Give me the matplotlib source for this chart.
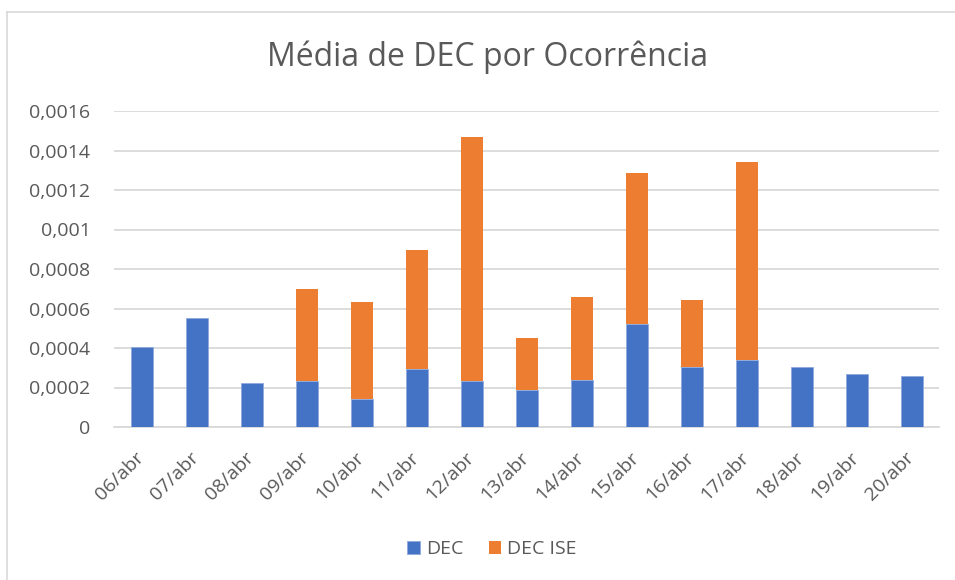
import matplotlib
matplotlib.use("Agg")
import matplotlib.pyplot as plt
from matplotlib.lines import Line2D
from matplotlib.transforms import ScaledTranslation
import numpy as np

categories = ["06/abr", "07/abr", "08/abr", "09/abr", "10/abr", "11/abr", "12/abr",
              "13/abr", "14/abr", "15/abr", "16/abr", "17/abr", "18/abr", "19/abr", "20/abr"]
dec = [0.000405, 0.00055, 0.000223, 0.000235, 0.00014, 0.000294, 0.000233,
       0.000189, 0.000236, 0.000523, 0.000305, 0.000339, 0.000305, 0.000267, 0.000257]
dec_ise = [0, 0, 0, 0.000465, 0.000495, 0.000601, 0.001237,
           0.00026, 0.000424, 0.000761, 0.000336, 0.001003, 0, 0, 0]
yticks = [0, 0.0002, 0.0004, 0.0006, 0.0008, 0.001, 0.0012, 0.0014, 0.0016]
ytick_labels = ["0", "0,0002", "0,0004", "0,0006", "0,0008", "0,001", "0,0012", "0,0014", "0,0016"]

FONT = ["Open Sans", "DejaVu Sans"]
TXT = "#595959"
BLUE = "#4472C4"
ORANGE = "#ED7D31"
FS = 14

fig = plt.figure(figsize=(9.55, 5.8), dpi=100)
ax = fig.add_axes([114/955, 1-427/580, (939-114)/955, (427-111)/580])

x = np.arange(len(categories))
ax.bar(x, dec, width=0.4, color=BLUE, edgecolor="#8FAADC", linewidth=0.6, label="DEC", zorder=3)
ax.bar(x, dec_ise, bottom=dec, width=0.4, color=ORANGE, linewidth=0,
       label="DEC ISE", zorder=3)

ax.set_xlim(-0.5, len(categories) - 0.5)
ax.set_ylim(0, 0.0016)
ax.tick_params(axis="both", length=0)
ax.tick_params(axis="y", pad=17)
ax.tick_params(axis="x", pad=11)
ax.set_yticks(yticks)
ax.set_yticklabels(ytick_labels, family=FONT, fontsize=FS, color=TXT)
ax.set_xticks(x)
ax.set_xticklabels(categories, family=FONT, fontsize=FS, color=TXT, rotation=45,
                   ha="right", va="top", rotation_mode="anchor")
shift = ScaledTranslation(-7/100, -6/100, fig.dpi_scale_trans)
for lbl in ax.get_xticklabels():
    lbl.set_transform(lbl.get_transform() + shift)
ax.grid(axis="y", color="#D9D9D9", linewidth=1.3, zorder=0)
for s in ["top", "right", "left"]:
    ax.spines[s].set_visible(False)
ax.spines["bottom"].set_color("#D9D9D9")
ax.spines["bottom"].set_linewidth(1.3)

fig.text(488/955, 1-57/580, "Média de DEC por Ocorrência", family=FONT, fontsize=23,
         color=TXT, ha="center", va="center")

handles, labels = ax.get_legend_handles_labels()
leg = fig.legend(handles, labels, loc="center", bbox_to_anchor=(492/955, 1-549/580), ncol=2,
                 frameon=False, prop={"family": FONT, "size": FS}, handlelength=0.65,
                 handleheight=0.65, handletextpad=0.3, columnspacing=1.3)
for t in leg.get_texts():
    t.set_color(TXT)

# chart border
fig.add_artist(Line2D([7/955, 7/955], [0, 1-12/580], transform=fig.transFigure,
                      color="#D9D9D9", linewidth=1.2))
fig.add_artist(Line2D([7/955, 1], [1-12/580, 1-12/580], transform=fig.transFigure,
                      color="#D9D9D9", linewidth=1.2))

fig.savefig("out.png", dpi=100, facecolor="white")
